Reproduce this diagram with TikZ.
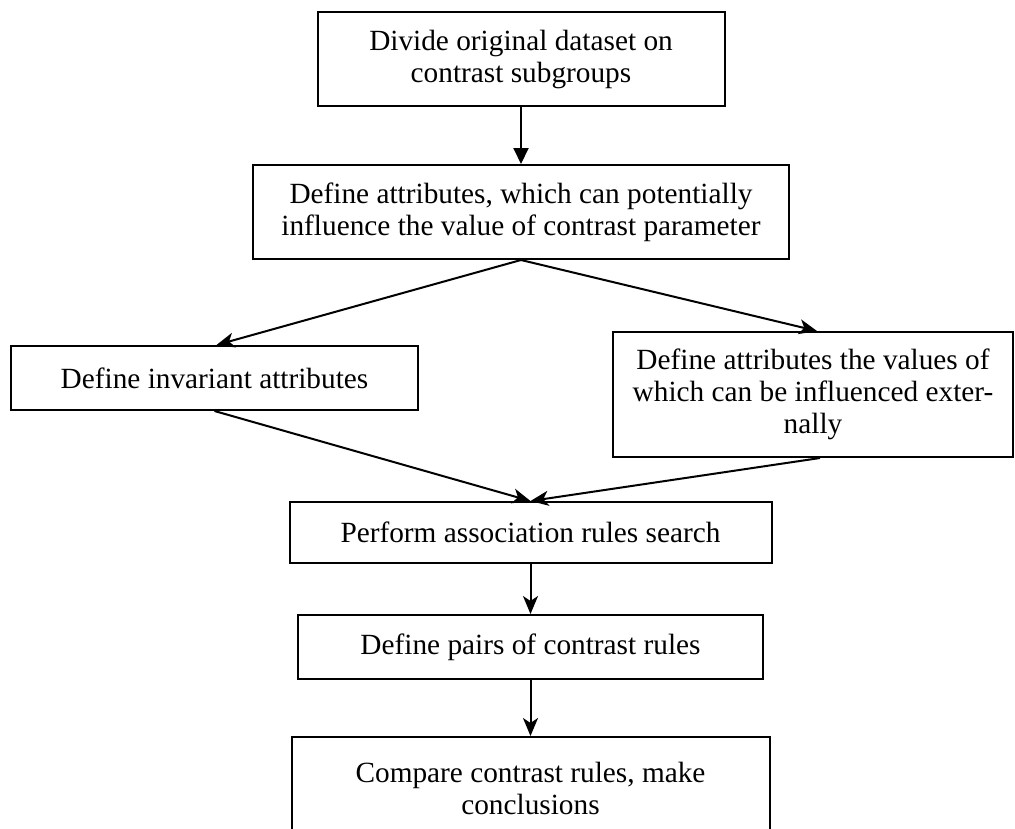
\documentclass[tikz,border=0pt]{standalone}
\usepackage{fontspec}
\setmainfont{Liberation Serif}
\usetikzlibrary{arrows.meta}
\begin{document}
\begin{tikzpicture}[x=1pt,y=-1pt,
  box/.style={draw, line width=2pt, align=center, inner sep=0pt,
    font=\fontsize{29.3}{32}\selectfont},
  conn/.style={line width=2pt, -{Stealth[length=18pt,width=15pt,inset=5pt]}},
  connf/.style={line width=2pt, -{Triangle[length=16pt,width=15pt]}}]
\useasboundingbox (0,0) rectangle (1015,828);
\node[box, minimum width=407pt, minimum height=94pt] (b1) at (521,59)
  {Divide original dataset on\\contrast subgroups};
\node[box, minimum width=536pt, minimum height=94pt] (b2) at (521,212)
  {Define attributes, which can potentially\\influence the value of contrast parameter};
\node[box, minimum width=407pt, minimum height=64pt] (b3) at (214.5,378)
  {Define invariant attributes};
\node[box, minimum width=400pt, minimum height=125pt] (b4) at (813,394.5)
  {Define attributes the values of\\which can be influenced exter-\\nally};
\node[box, minimum width=482pt, minimum height=61pt] (b5) at (530.5,532.5)
  {Perform association rules search};
\node[box, minimum width=465pt, minimum height=64pt] (b6) at (530.5,647)
  {Define pairs of contrast rules};
\node[box, minimum width=478pt, minimum height=103pt] (b7) at (530.5,788.5)
  {Compare contrast rules, make\\conclusions};
\draw[connf] (b1.south) -- (b2.north);
\draw[conn] (b2.south) -- ([xshift=2pt]b3.north);
\draw[conn] (b2.south) -- ([xshift=4pt]b4.north);
\draw[conn] (b3.south) -- (b5.north);
\draw[conn] ([xshift=7pt]b4.south) -- (b5.north);
\draw[conn] (b5.south) -- (b6.north);
\draw[conn] (b6.south) -- (b7.north);
\end{tikzpicture}
\end{document}
